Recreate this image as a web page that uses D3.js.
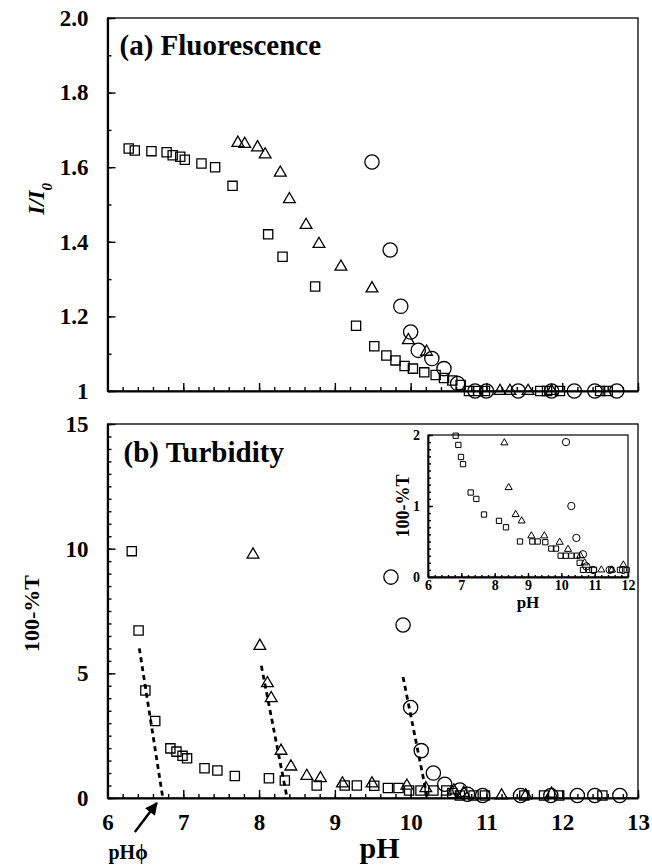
<!DOCTYPE html>
<html>
<head>
<meta charset="utf-8">
<script src="https://cdn.jsdelivr.net/npm/d3@7"></script>
<style>
  body { margin: 0; background: #fff; }
  text { font-family: "Liberation Serif", "Times New Roman", serif; font-weight: bold; fill: #000; }
</style>
</head>
<body>
<svg id="chart" width="652" height="865"></svg>
<script>
// ---- data: [pH, value] ----
// (a) fluorescence, I/I0
const fluorSquares = [[6.28,1.650],[6.36,1.645],[6.58,1.643],[6.78,1.640],[6.86,1.632],[6.96,1.628],[7.02,1.620],
  [7.24,1.610],[7.42,1.600],[7.65,1.550],[8.12,1.420],[8.31,1.360],[8.74,1.280],[9.28,1.175],[9.52,1.120],
  [9.68,1.095],[9.80,1.082],[9.92,1.067],[10.03,1.060],[10.18,1.050],[10.33,1.043],[10.44,1.035],[10.55,1.028],
  [10.66,1.016],[10.77,1.0],[10.89,1.0],[10.98,1.0],[11.71,1.0],[11.80,1.0],[11.97,1.0],[12.50,1.0],[12.60,1.0]];
const fluorTriangles = [[7.72,1.665],[7.81,1.662],[7.98,1.653],[8.08,1.634],[8.28,1.585],[8.40,1.514],[8.62,1.445],
  [8.79,1.394],[9.08,1.333],[9.49,1.275],[9.97,1.136],[10.21,1.105],[11.18,1.0],[11.31,1.0],[11.55,1.0],[11.86,1.0]];
const fluorCircles = [[9.49,1.614],[9.73,1.378],[9.87,1.227],[10.00,1.158],[10.10,1.109],[10.28,1.087],[10.44,1.060],
  [10.62,1.020],[10.85,1.0],[11.00,1.0],[11.42,1.0],[11.86,1.0],[12.16,1.0],[12.43,1.0],[12.72,1.0]];

// (b) turbidity, 100-%T
const turbSquares = [[6.32,9.9],[6.41,6.72],[6.50,4.31],[6.63,3.09],[6.83,1.99],[6.91,1.86],[6.99,1.69],[7.05,1.59],
  [7.28,1.19],[7.45,1.10],[7.68,0.88],[8.13,0.79],[8.34,0.70],[8.76,0.50],[9.13,0.50],[9.29,0.50],[9.52,0.49],
  [9.70,0.40],[9.84,0.40],[9.98,0.30],[10.13,0.30],[10.30,0.30],[10.47,0.30],[10.55,0.20],[10.65,0.10],[10.83,0.10],
  [10.98,0.10],[11.50,0.10],[11.76,0.10],[11.96,0.10],[12.53,0.10]];
const turbTriangles = [[7.92,9.76],[8.01,6.1],[8.11,4.6],[8.16,4.0],[8.29,1.89],[8.42,1.26],[8.63,0.88],[8.81,0.79],
  [9.10,0.58],[9.49,0.58],[9.95,0.49],[10.20,0.39],[10.57,0.30],[10.70,0.20],[11.20,0.10],[11.52,0.10],[11.86,0.17]];
const turbCircles = [[9.74,8.86],[9.90,6.94],[10.00,3.63],[10.14,1.90],[10.30,1.00],[10.45,0.55],[10.65,0.32],
  [10.75,0.15],[10.95,0.10],[11.45,0.10],[11.85,0.10],[12.20,0.10],[12.43,0.10],[12.76,0.10]];

// dashed extrapolation lines to 100-%T = 0
const fitSquares = [[6.42,6.0],[6.73,0]];
const fitTriangles = [[8.03,5.3],[8.37,0]];
const fitCircles = [[9.90,4.85],[10.22,0]];
const pHphi = 6.73;

// ticks
const xTicks = [6,7,8,9,10,11,12,13];
const yTopTicks = [1,1.2,1.4,1.6,1.8,2.0];
const yTopLabels = ["1","1.2","1.4","1.6","1.8","2.0"];
const yBotTicks = [0,5,10,15];
const insetXTicks = [6,7,8,9,10,11,12];
const insetYTicks = [0,1,2];

// ---- layout ----
const svg = d3.select("#chart");
const x = d3.scaleLinear().domain([6,13]).range([107.5,638]);
const yTop = d3.scaleLinear().domain([1,2]).range([391,18]);
const yBot = d3.scaleLinear().domain([0,15]).range([798,424]);
const xIn = d3.scaleLinear().domain([6,12]).range([428,628]);
const yIn = d3.scaleLinear().domain([0,2]).range([577,435]);

function frame(xs, ys, sw) {
  const [x0,x1] = xs.range(), [y0,y1] = ys.range();
  svg.append("rect")
    .attr("x", x0).attr("y", y1)
    .attr("width", x1 - x0).attr("height", y0 - y1)
    .attr("fill", "none").attr("stroke", "#000").attr("stroke-width", sw);
}

function styleAxis(g, sw) {
  g.attr("font-family", null).attr("font-size", null);
  g.selectAll("g").attr("font-family", null).attr("font-size", null);
  g.selectAll(".domain").attr("stroke-width", sw);
  g.selectAll(".tick line").attr("stroke-width", 1.4);
}

function bottomAxis(xs, ys, major, labels, minor, big, small, pad, fs, sw) {
  const g = svg.append("g").attr("transform", `translate(0,${ys.range()[0]})`);
  g.call(d3.axisBottom(xs).tickValues(minor).tickSize(-small).tickSizeOuter(0).tickFormat(""));
  const gm = g.append("g").call(d3.axisBottom(xs).tickValues(major).tickSize(-big).tickSizeOuter(0)
    .tickPadding(pad).tickFormat((d,i) => labels ? labels[i] : ""));
  gm.select(".domain").remove();
  gm.selectAll("text").attr("font-size", fs);
  styleAxis(g, sw);
}

function leftAxis(xs, ys, major, labels, minor, big, small, pad, fs, sw) {
  const g = svg.append("g").attr("transform", `translate(${xs.range()[0]},0)`);
  g.call(d3.axisLeft(ys).tickValues(minor).tickSize(-small).tickSizeOuter(0).tickFormat(""));
  const gm = g.append("g").call(d3.axisLeft(ys).tickValues(major).tickSize(-big).tickSizeOuter(0)
    .tickPadding(pad).tickFormat((d,i) => labels[i]));
  gm.select(".domain").remove();
  gm.selectAll("text").attr("font-size", fs);
  styleAxis(g, sw);
}

function markers(data, shape, xs, ys, size, sw) {
  const type = shape === "square" ? d3.symbolSquare : shape === "triangle" ? d3.symbolTriangle : d3.symbolCircle;
  svg.append("g").selectAll("path")
    .data(data)
    .join("path")
    .attr("transform", d => `translate(${xs(d[0])},${ys(d[1])})`)
    .attr("d", d3.symbol().type(type).size(size))
    .attr("fill", "none")
    .attr("stroke", "#000")
    .attr("stroke-width", sw);
}

// ---- panel (a) ----
frame(x, yTop, 1.3);
bottomAxis(x, yTop, xTicks, null, d3.range(6, 13.001, 0.2), 8, 4, 0, 0, 2);
leftAxis(x, yTop, yTopTicks, yTopLabels, d3.range(1, 2.001, 0.1), 8, 4, 19, 23, 2.2);
markers(fluorSquares, "square", x, yTop, 85, 1.3);
markers(fluorTriangles, "triangle", x, yTop, 60, 1.3);
markers(fluorCircles, "circle", x, yTop, 160, 1.3);

svg.append("text").attr("x", x(6) + 12).attr("y", yTop(2) + 37)
  .attr("font-size", 29).text("(a) Fluorescence");

svg.append("text")
  .attr("transform", `translate(44,${yTop(1.515)}) rotate(-90)`)
  .attr("text-anchor", "middle").attr("font-size", 23).attr("font-style", "italic")
  .html('I/I<tspan baseline-shift="sub" font-size="15">0</tspan>');

// ---- panel (b) ----
frame(x, yBot, 1.3);
bottomAxis(x, yBot, xTicks, xTicks.map(String), d3.range(6, 13.001, 0.2), 8, 4, 16, 23, 2);
leftAxis(x, yBot, yBotTicks, yBotTicks.map(String), d3.range(0, 15.001, 0.5), 8, 4, 19, 23, 2.2);

const line = d3.line().x(d => x(d[0])).y(d => yBot(d[1]));
[fitSquares, fitTriangles, fitCircles].forEach(f => {
  svg.append("path").attr("d", line(f)).attr("fill", "none")
    .attr("stroke", "#000").attr("stroke-width", 2.8).attr("stroke-dasharray", "5,4");
});

markers(turbSquares, "square", x, yBot, 85, 1.3);
markers(turbTriangles, "triangle", x, yBot, 60, 1.3);
markers(turbCircles, "circle", x, yBot, 160, 1.3);

svg.append("text").attr("x", x(6) + 16).attr("y", yBot(15) + 38)
  .attr("font-size", 29).text("(b) Turbidity");

svg.append("text")
  .attr("transform", `translate(39,${yBot(7.4)}) rotate(-90)`)
  .attr("text-anchor", "middle").attr("font-size", 22).text("100-%T");

svg.append("text").attr("x", x(9.59)).attr("y", 858)
  .attr("text-anchor", "middle").attr("font-size", 30).text("pH");

// pH-phi arrow
svg.append("defs").append("marker")
  .attr("id", "arrowHead").attr("viewBox", "0 0 10 10").attr("refX", 9).attr("refY", 5)
  .attr("markerWidth", 6).attr("markerHeight", 5).attr("orient", "auto")
  .append("path").attr("d", "M0,0L10,5L0,10Z").attr("fill", "#000");
svg.append("line")
  .attr("x1", x(pHphi) - 28).attr("y1", yBot(0) + 34)
  .attr("x2", x(pHphi) - 6).attr("y2", yBot(0) + 5)
  .attr("stroke", "#000").attr("stroke-width", 2.5).attr("marker-end", "url(#arrowHead)");
svg.append("text").attr("x", x(6) + 1).attr("y", 859).attr("font-size", 20).text("pHϕ");

// ---- inset ----
svg.append("rect").attr("x", xIn(6)).attr("y", yIn(2))
  .attr("width", xIn(12) - xIn(6)).attr("height", yIn(0) - yIn(2)).attr("fill", "#fff");
frame(xIn, yIn, 1.2);
bottomAxis(xIn, yIn, insetXTicks, insetXTicks.map(String), d3.range(6, 12.001, 0.2), 4, 2, 3, 14, 1.8);
leftAxis(xIn, yIn, insetYTicks, insetYTicks.map(String), d3.range(0, 2.001, 0.1), 5, 3, 8, 14, 1.8);

const inFilter = d => d[1] <= 2 && d[0] <= 12;
markers(turbSquares.filter(inFilter), "square", xIn, yIn, 28, 1);
markers(turbTriangles.filter(inFilter), "triangle", xIn, yIn, 22, 1);
markers(turbCircles.filter(inFilter), "circle", xIn, yIn, 42, 1);

svg.append("text").attr("x", (xIn(6) + xIn(12)) / 2).attr("y", 608)
  .attr("text-anchor", "middle").attr("font-size", 17).text("pH");
svg.append("text")
  .attr("transform", `translate(409,${yIn(1)}) rotate(-90)`)
  .attr("text-anchor", "middle").attr("font-size", 18).text("100-%T");
</script>
</body>
</html>
